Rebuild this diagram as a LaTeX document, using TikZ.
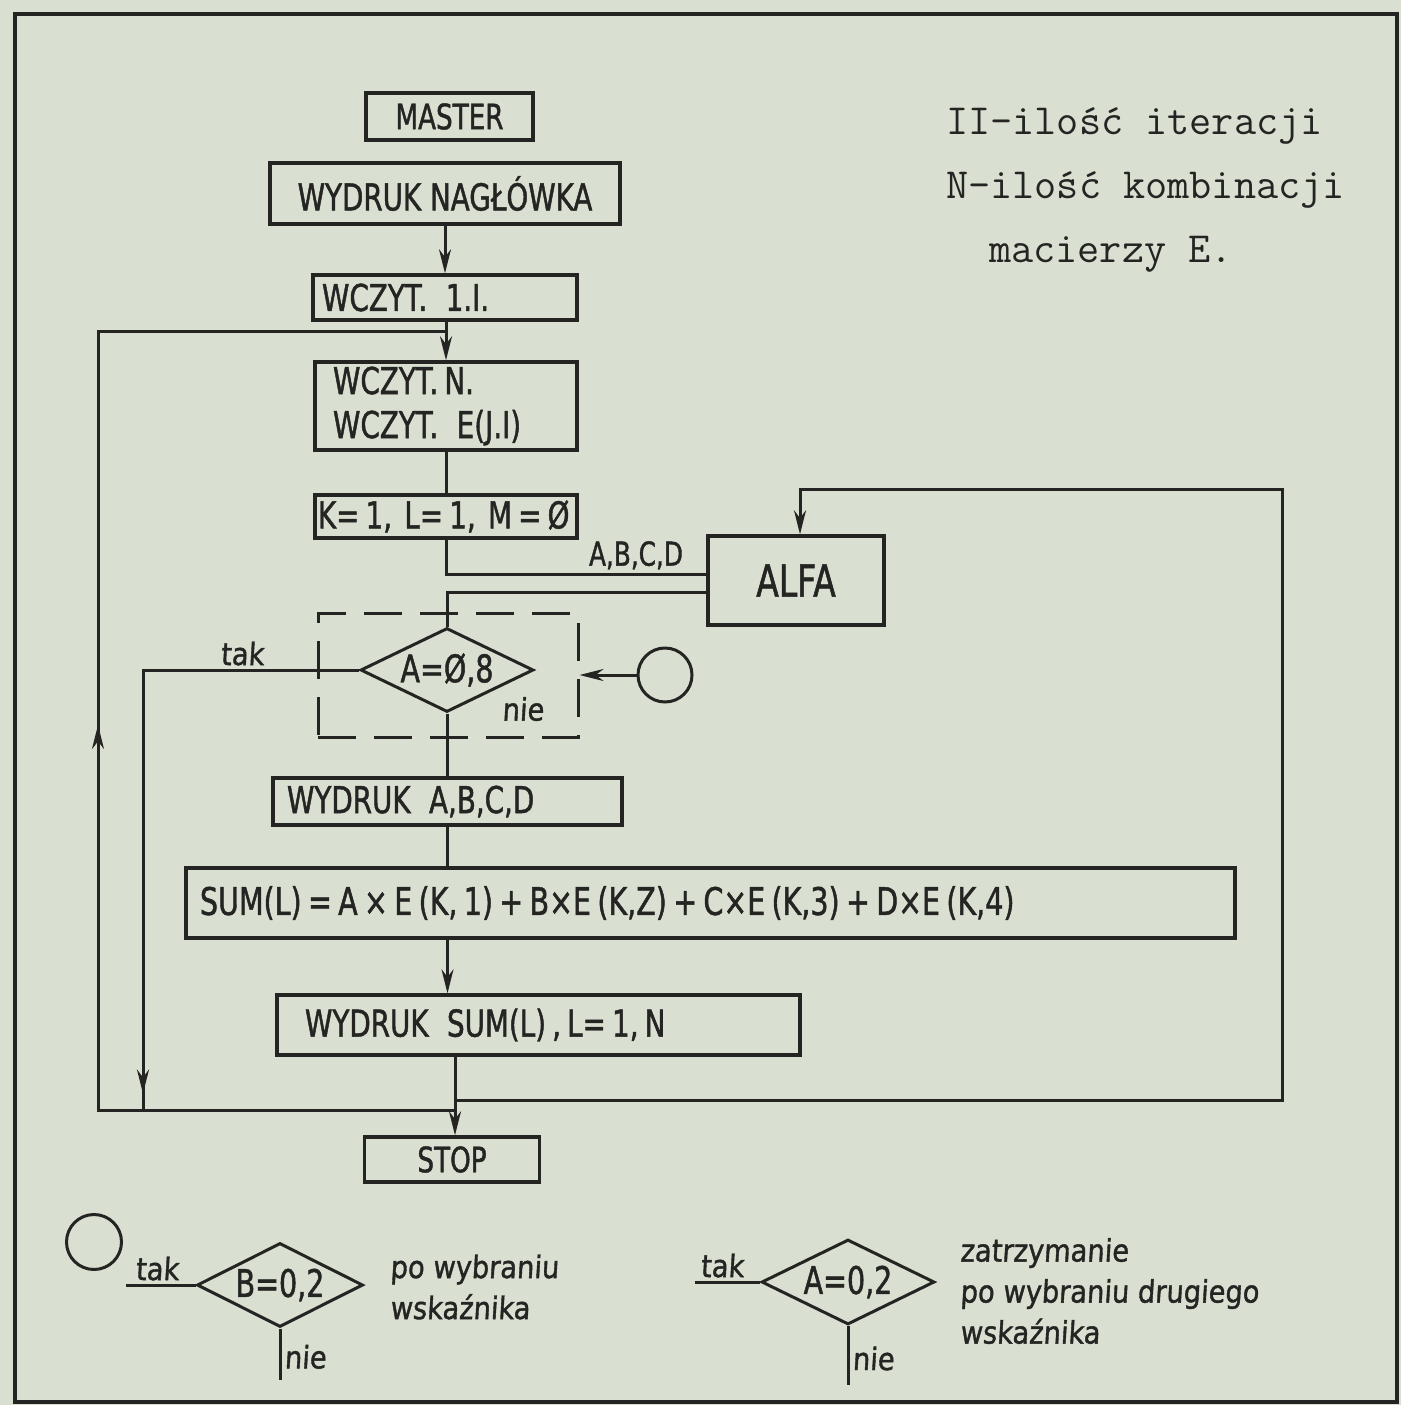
\documentclass[tikz,border=0pt]{standalone}
\usepackage{fontspec}
\newfontfamily\hand[FakeStretch=0.75,FakeBold=1.2]{DejaVu Sans}
\newfontfamily\handnote[FakeStretch=0.88,FakeSlant=0.06,FakeBold=1.2]{DejaVu Sans}
\usetikzlibrary{shapes.geometric,arrows.meta,decorations.markings}
\definecolor{paper}{RGB}{217,223,209}
\definecolor{ink}{RGB}{36,36,34}

\begin{document}
\begin{tikzpicture}[x=1pt,y=-1pt,color=ink,
    box/.style={draw, line width=3.4pt, inner sep=0pt, font=\hand\fontsize{37}{44}\selectfont},
    dia/.style={draw, diamond, line width=3pt, inner sep=0pt, font=\hand\fontsize{38}{44}\selectfont},
    lbl/.style={inner sep=3pt, font=\handnote\fontsize{31}{36}\selectfont},
    note/.style={inner sep=0pt, align=left, anchor=west, font=\handnote\fontsize{31}{41}\selectfont},
    flow/.style={line width=3pt},
    tip/.style={-{Stealth[length=24pt,width=12pt]}},
    midtip/.style={postaction={decorate}, decoration={markings, mark=at position #1 with {\arrow{Stealth[length=24pt,width=12pt]}}}}]
    \useasboundingbox (0,0) rectangle (1401,1405);
    \fill[paper] (0,0) rectangle (1401,1405);
    \draw[line width=3.4pt] (15,14) rectangle (1397,1402);
    \node[inner sep=0pt, align=left, anchor=north west, font=\ttfamily\fontsize{43}{64}\selectfont] (remark) at (946,108)
        {II-ilość iteracji\\N-ilość kombinacji\\\hspace*{43pt}macierzy E.};
    \node[box, minimum width=167pt, minimum height=47pt, font=\hand\fontsize{35}{40}\selectfont] (master) at (449.5,116.5) {MASTER};
    \node[box, minimum width=350pt, minimum height=61pt] (head) at (445,193.5) {WYDRUK NAGŁÓWKA};
    \node[box, align=left, text width=246pt, inner xsep=9pt, minimum height=45pt] (readI) at (445,297.5) {WCZYT.\ \,1.I.};
    \node[box, align=left, text width=226pt, inner xsep=18pt, minimum height=88pt] (readN) at (446,406) {WCZYT.\,N.\\WCZYT.\ \,E(J.I)};
    \node[box, align=left, text width=256pt, inner xsep=3pt, minimum height=43pt] (init) at (446,516.5) {K=\,1,~L=\,1,~M\,=\,Ø};
    \node[box, minimum width=176pt, minimum height=89pt, font=\hand\fontsize{44}{50}\selectfont] (alfa) at (796,580.5) {ALFA};
    \node[draw, line width=3pt, dash pattern=on 38pt off 18pt, minimum width=260pt, minimum height=124pt] (window) at (448,675) {};
    \node[dia, minimum width=173pt, minimum height=84pt, aspect=2.06] (decA) at (447,670) {A=Ø,8};
    \node[lbl] (nieA) at (523,709) {nie};
    \node[draw, circle, line width=3pt, minimum size=54pt] (ring) at (665,675) {};
    \node[box, align=left, text width=321pt, inner xsep=14pt, minimum height=47pt] (printabcd) at (447.5,801.5) {WYDRUK\, A,B,C,D};
    \node[box, align=left, text width=1021pt, inner xsep=14pt, minimum height=70pt, font=\hand\fontsize{38}{44}\selectfont] (sum) at (710.5,903)
        {SUM(L)\,=\,A\,×\,E\,(K,\,1)\,+\,B×E\,(K,Z)\,+\,C×E\,(K,3)\,+\,D×E\,(K,4)};
    \node[box, align=left, text width=467pt, inner xsep=28pt, minimum height=60pt] (printsum) at (538.5,1025) {WYDRUK\ \,SUM(L)\,,\,L=\,1,\,N};
    \node[box, minimum width=175pt, minimum height=45pt, font=\hand\fontsize{35}{40}\selectfont] (stop) at (452,1159.5) {STOP};
    \coordinate (jt) at (446,331);
    \coordinate (jl) at (455,1110);
    \coordinate (jr) at (455,1100);
    \coordinate (jtak) at (143,1110);
    \draw[flow, tip] (head.south) -- (head.south |- readI.north);
    \draw[flow, tip] (readI.south -| jt) -- (readN.north -| jt);
    \draw[flow] (readN.south) -- (init.north);
    \draw[flow] (init.south) |- ([yshift=6.5pt]alfa.west)
        node[pos=0.865, above, inner sep=3pt, font=\hand\fontsize{33}{40}\selectfont] {A,B,C,D};
    \draw[flow] ([yshift=-11.5pt]alfa.west) -| (decA.north);
    \draw[flow, midtip=0.975] (decA.west) -| (jtak) node[pos=0.27, above, lbl] {tak};
    \draw[flow, tip] (ring.west) -- (window.east |- ring.west);
    \draw[flow] (decA.south) -- (printabcd.north -| decA.south);
    \draw[flow] (printabcd.south) -- (sum.north -| printabcd.south);
    \draw[flow, tip] (sum.south -| printabcd.south) -- (printsum.north -| printabcd.south);
    \draw[flow, tip] (printsum.south -| jl) -- (stop.north -| jl);
    \draw[flow, tip] (jr) -| (1282,489) -| ([xshift=4pt]alfa.north);
    \draw[flow, midtip=0.5] (jl) -- (98,1110) |- (jt);
    \node[draw, circle, line width=3pt, minimum size=55pt] (ringkey) at (94,1242) {};
    \node[dia, minimum width=166pt, minimum height=84pt, aspect=1.98] (decB) at (280,1285) {B=0,2};
    \node[dia, minimum width=173pt, minimum height=85pt, aspect=2.03] (decC) at (848,1282) {A=0,2};
    \coordinate (takB) at (126,1285);
    \coordinate (nieB) at (280,1380);
    \coordinate (takC) at (695,1282);
    \coordinate (nieC) at (848,1385);
    \draw[flow] (takB) -- (decB.west) node[pos=0.45, above, lbl] {tak};
    \draw[flow] (decB.south) -- (nieB) node[pos=0.55, right, lbl] {nie};
    \draw[flow] (takC) -- (decC.west) node[pos=0.42, above, lbl] {tak};
    \draw[flow] (decC.south) -- (nieC) node[pos=0.55, right, lbl] {nie};
    \node[note] (noteB) at (390,1287) {po wybraniu\\wskaźnika};
    \node[note] (noteC) at (960,1291) {zatrzymanie\\po wybraniu drugiego\\wskaźnika};
\end{tikzpicture}
\end{document}
